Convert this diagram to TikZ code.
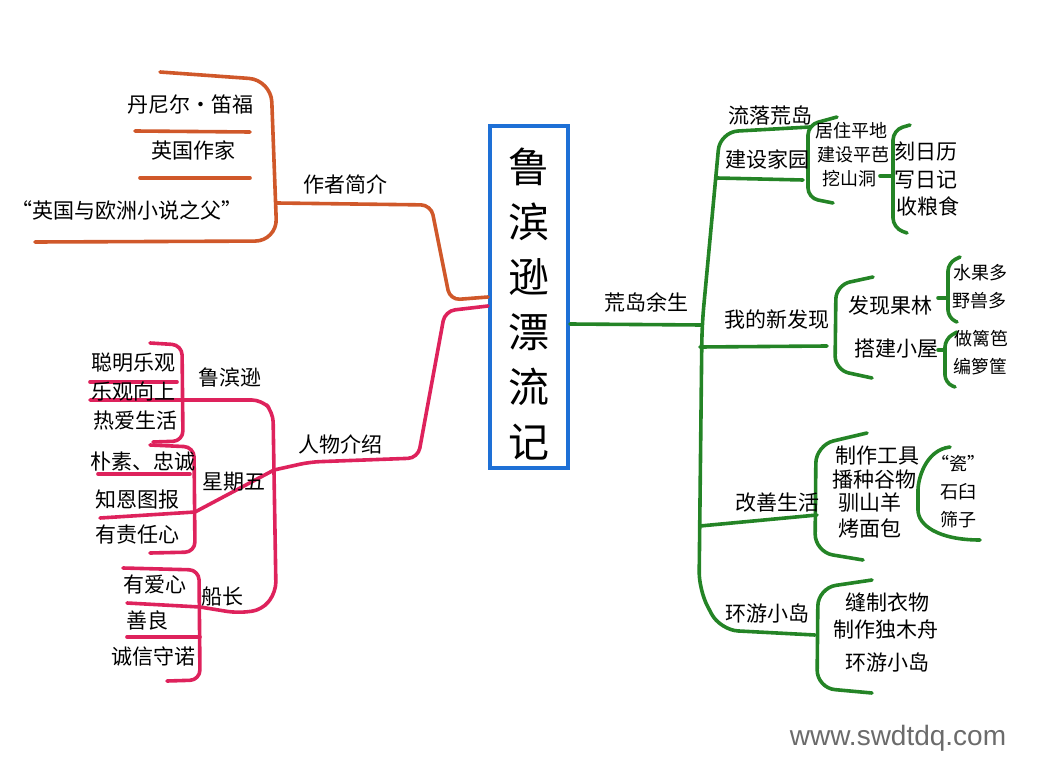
\documentclass[tikz,border=0pt]{standalone}
\usepackage{fontspec}
\newfontfamily\cjk{Noto Sans CJK SC}
\newfontfamily\wmfont{Liberation Sans}
\definecolor{orangeink}{RGB}{208,88,42}
\definecolor{pinkink}{RGB}{222,34,92}
\definecolor{greenink}{RGB}{36,132,38}
\definecolor{blueink}{RGB}{30,112,214}
\tikzset{
  ink/.style={line width=3.6pt, line cap=round, line join=round, rounded corners=10pt},
  word/.style={font=\cjk\fontsize{21}{24}\selectfont, inner sep=1pt},
  smallword/.style={font=\cjk\fontsize{18}{20}\selectfont, inner sep=1pt},
}

\begin{document}
\begin{tikzpicture}[x=1pt,y=-1pt]
	\useasboundingbox (0,0) rectangle (1041,781);
	% title
	\node[draw=blueink, line width=4pt, minimum width=78pt, minimum height=341pt, inner sep=0pt,
	  align=center, font=\cjk\fontsize{41}{55}\selectfont] (book) at (529,297) {\\[-6pt]鲁\\滨\\逊\\漂\\流\\记};

	% author
	\coordinate (jAu) at (277,203);
	\draw[ink, orangeink] (book.west) -- (450,300) -- (431,205) -- (jAu);
	\draw[ink, orangeink, rounded corners=22pt] (160,72) -- (271,80) -- (277,241) -- (35,242);
	\draw[ink, orangeink] (135,131) -- (250,132);
	\draw[ink, orangeink] (140,178) -- (250,178);
	\node[word] (author) at (345,184) {作者简介};
	\node[word] (defoe) at (190,104) {丹尼尔·笛福};
	\node[word] (writer) at (193,150) {英国作家};
	\node[word] (father) at (127,210) {“英国与欧洲小说之父”};

	% people
	\coordinate (jPe) at (274,470);
	\coordinate (jFr) at (195,512);
	\draw[ink, pinkink] ([yshift=-9pt]book.west) -- (445,311) -- (418,458) -- (310,462) -- (jPe);
	\draw[ink, pinkink, rounded corners=6pt] (jPe) -- (jFr);
	\draw[ink, pinkink] (90,400) -- (262,400) -- (273,412) -- (276,592) -- (262,610) -- (237,613) -- (200,607);
	\draw[ink, pinkink] (150,343) -- (182,345) -- (183,441) -- (153,442);
	\draw[ink, pinkink] (90,382) -- (177,382);
	\draw[ink, pinkink] (150,445) -- (194,447) -- (195,552) -- (150,553);
	\draw[ink, pinkink] (98,474) -- (190,474);
	\draw[ink, pinkink] (100,518) -- (jFr);
	\draw[ink, pinkink] (123,568) -- (199,570) -- (200,680) -- (167,681);
	\draw[ink, pinkink] (127,603) -- (200,607);
	\draw[ink, pinkink] (127,637) -- (200,637);
	\node[word] (people) at (340,444) {人物介绍};
	\node[word] (robin) at (230,377) {鲁滨逊};
	\node[word] (friday) at (234,482) {星期五};
	\node[word] (captain) at (222,597) {船长};
	\node[word] (smart) at (133,363) {聪明乐观};
	\node[word] (upward) at (133,391) {乐观向上};
	\node[word] (life) at (135,421) {热爱生活};
	\node[word] (honest) at (143,462) {朴素、忠诚};
	\node[word] (grateful) at (137,500) {知恩图报};
	\node[word] (duty) at (137,535) {有责任心};
	\node[word] (love) at (155,585) {有爱心};
	\node[word] (kind) at (147,620) {善良};
	\node[word] (promise) at (153,656) {诚信守诺};

	% island
	\coordinate (jIs) at (702,325);
	\draw[ink, greenink] ([yshift=-27pt]book.east) -- (jIs);
	\draw[ink, greenink, rounded corners=18pt] (810,127) -- (720,132) -- (702,325) -- (699,590) -- (720,630) -- (815,635);
	\node[word] (island) at (646,302) {荒岛余生};
	\node[word] (drift) at (770,116) {流落荒岛};
	% home
	\draw[ink, greenink] (717,178) -- (803,180);
	\draw[ink, greenink] (837,117) -- (808,125) -- (808,198) -- (833,203);
	\draw[ink, greenink] (880,176) -- (893,176);
	\draw[ink, greenink] (910,125) -- (893,130) -- (893,228) -- (907,233);
	\node[word] (home) at (767,159) {建设家园};
	\node[smallword] (flat) at (851,131) {居住平地};
	\node[smallword] (fence) at (853,155) {建设平芭};
	\node[smallword] (cave) at (849,179) {挖山洞};
	\node[word] (calendar) at (926,151) {刻日历};
	\node[word] (diary) at (926,180) {写日记};
	\node[word] (grain) at (928,206) {收粮食};
	% discovery
	\draw[ink, greenink] (700,347) -- (827,346);
	\draw[ink, greenink, rounded corners=14pt] (873,277) -- (836,285) -- (835,370) -- (872,378);
	\draw[ink, greenink] (938,298) -- (948,298);
	\draw[ink, greenink, rounded corners=8pt] (960,257) -- (948,263) -- (948,318) -- (957,322);
	\draw[ink, greenink] (938,350) -- (945,350);
	\draw[ink, greenink, rounded corners=8pt] (957,332) -- (945,339) -- (945,383) -- (955,387);
	\node[word] (found) at (777,320) {我的新发现};
	\node[word] (grove) at (890,306) {发现果林};
	\node[word] (hut) at (896,349) {搭建小屋};
	\node[smallword] (fruit) at (980,273) {水果多};
	\node[smallword] (beast) at (979,301) {野兽多};
	\node[smallword] (hedge) at (981,339) {做篱笆};
	\node[smallword] (basket) at (980,367) {编箩筐};
	% better life
	\draw[ink, greenink] (700,526) -- (817,515);
	\draw[ink, greenink, rounded corners=18pt] (867,433) -- (816,445) -- (815,552) -- (863,560);
	\draw[ink, greenink, line cap=round] (950,447) .. controls (925,450) and (918,480) .. (918,500)
	  .. controls (918,525) and (938,540) .. (980,540);
	\node[word] (better) at (777,503) {改善生活};
	\node[word] (tools) at (877,456) {制作工具};
	\node[word] (sow) at (874,480) {播种谷物};
	\node[word] (goat) at (870,503) {驯山羊};
	\node[word] (bread) at (870,528) {烤面包};
	\node[smallword] (china) at (958,464) {“瓷”};
	\node[smallword] (mortar) at (958,492) {石臼};
	\node[smallword] (sieve) at (958,520) {筛子};
	% around island
	\draw[ink, greenink, rounded corners=18pt] (872,580) -- (818,588) -- (817,688) -- (872,693);
	\node[word] (tour) at (767,613) {环游小岛};
	\node[word] (clothes) at (887,602) {缝制衣物};
	\node[word] (canoe) at (886,630) {制作独木舟};
	\node[word] (tour2) at (887,662) {环游小岛};

	\node[font=\wmfont\fontsize{28}{30}\selectfont, text=black!58] (mark) at (898,738) {www.swdtdq.com};
\end{tikzpicture}
\end{document}
